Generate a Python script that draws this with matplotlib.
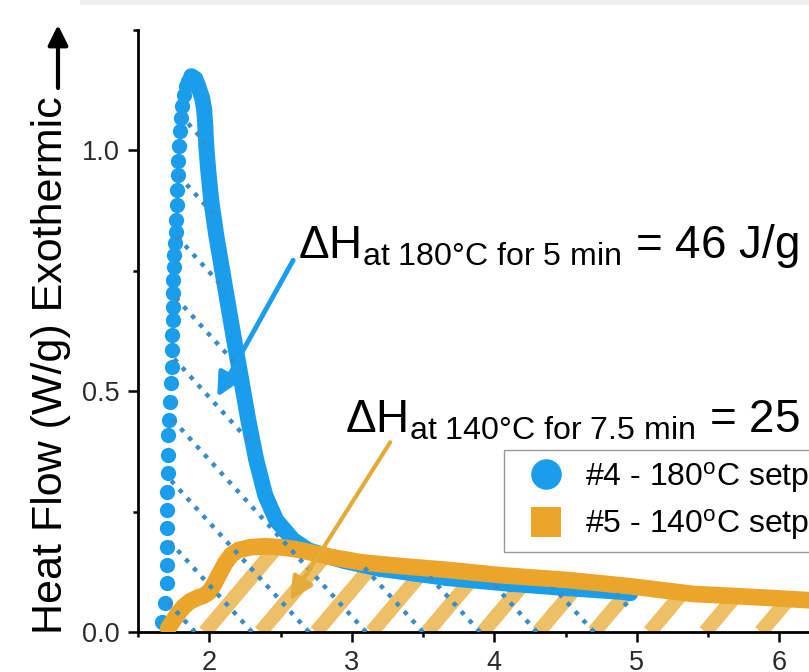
import numpy as np
import matplotlib
matplotlib.use('Agg')
import matplotlib.pyplot as plt
from matplotlib.patches import Polygon, FancyArrowPatch, Rectangle
from matplotlib.collections import LineCollection
from matplotlib.lines import Line2D
from matplotlib.ticker import MultipleLocator

plt.rcParams['font.family'] = ['Liberation Sans', 'DejaVu Sans']
plt.rcParams['mathtext.fontset'] = 'custom'
plt.rcParams['mathtext.rm'] = 'Liberation Sans'
plt.rcParams['mathtext.it'] = 'Liberation Sans:italic'
plt.rcParams['mathtext.bf'] = 'Liberation Sans:bold'


#------
# DATA
#------

# run #4, 180 C setpoint (time in min, heat flow in W/g)
time_180 = [1.670, 1.691, 1.705, 1.705, 1.705, 1.705, 1.705, 1.705, 1.712, 1.712,
            1.712, 1.719, 1.726, 1.733, 1.740, 1.740, 1.740, 1.747, 1.747, 1.747,
            1.747, 1.754, 1.754, 1.761, 1.768, 1.768, 1.775, 1.775, 1.782, 1.782,
            1.789, 1.796, 1.804, 1.811, 1.825, 1.839, 1.853, 1.874,
            1.902, 1.923, 1.951, 1.965, 1.972, 1.979, 1.993, 2.014, 2.049, 2.091,
            2.133, 2.175, 2.225, 2.274, 2.330, 2.393, 2.470, 2.589, 2.695, 2.821,
            2.954, 3.200, 3.670, 4.112, 4.512, 4.905, 4.954]
heat_180 = [0.021, 0.060, 0.102, 0.139, 0.176, 0.216, 0.253, 0.290, 0.330, 0.367,
            0.409, 0.440, 0.477, 0.517, 0.550, 0.585, 0.616, 0.647, 0.674, 0.703,
            0.730, 0.757, 0.782, 0.807, 0.830, 0.855, 0.886, 0.917, 0.948, 0.979,
            1.010, 1.041, 1.068, 1.093, 1.114, 1.133, 1.145, 1.154,
            1.149, 1.133, 1.108, 1.083, 1.052, 1.010, 0.958, 0.896, 0.824, 0.751,
            0.678, 0.606, 0.523, 0.440, 0.357, 0.284, 0.232, 0.191, 0.170, 0.158,
            0.147, 0.131, 0.112, 0.100, 0.091, 0.083, 0.081]

# run #5, 140 C setpoint
time_140 = [1.712, 1.768, 1.818, 1.867, 1.916, 1.958, 2.000, 2.035, 2.070, 2.112,
            2.154, 2.204, 2.288, 2.393, 2.498, 2.604, 2.730, 2.849, 3.060, 3.340,
            3.670, 4.042, 4.512, 4.954, 5.396, 5.796, 6.211, 6.358]
heat_140 = [0.008, 0.033, 0.052, 0.064, 0.071, 0.075, 0.083, 0.100, 0.120, 0.143,
            0.160, 0.170, 0.176, 0.178, 0.176, 0.172, 0.164, 0.156, 0.145, 0.137,
            0.129, 0.118, 0.108, 0.095, 0.079, 0.073, 0.066, 0.062]

series_labels = ['#4 - 180$^{\\mathrm{o}}$C setpoint',
                 '#5 - 140$^{\\mathrm{o}}$C setpoint']
dh_labels = ['$\\mathrm{\\Delta H}_{\\mathrm{at\\ 180°C\\ for\\ 5\\ min}}$ = 46 J/g',
             '$\\mathrm{\\Delta H}_{\\mathrm{at\\ 140°C\\ for\\ 7.5\\ min}}$ = 25 J/g']

BLUE = '#1A9EEC'
ORANGE = '#EBA52A'
ORANGE_LIGHT = '#ECB956'
DOTS = '#3A8CC6'


#---------
# HELPERS
#---------

# parallel lines through the baseline at x0s, clipped to the area under (x, y)
def hatch(ax, x, y, x0s, slope, **kw):
    verts = np.vstack([np.column_stack([x, y]), [[x[-1], 0], [x[0], 0]]])
    clip = Polygon(verts, closed=True, transform=ax.transData)
    top = max(y) * 1.05
    segs = [[(x0, 0), (x0 + top / slope, top)] for x0 in x0s]
    lc = LineCollection(segs, **kw)
    ax.add_collection(lc, autolim=False)
    lc.set_clip_path(clip)


#------
# MAIN
#------

fig = plt.figure(figsize=(8.09, 6.72), dpi=100)
fig.add_artist(Rectangle((80 / 809, 1 - 5 / 672), 1, 5 / 672,
                         transform=fig.transFigure, color='#efefef', lw=0))

ax = fig.add_axes([138 / 809, 40 / 672, 855 / 809, 602 / 672])

# area hatching
hatch(ax, time_140, heat_140, np.arange(1.58, 6.6, 0.39), 0.35,
      colors=ORANGE_LIGHT, linewidths=10.5, alpha=0.9, zorder=2)
peak = int(np.argmax(heat_180))
ax.plot(time_180, heat_180, 'o', ms=11, mew=0, color=BLUE, zorder=3)
ax.plot(time_180[peak:], heat_180[peak:], '-', lw=11.5, color=BLUE,
        solid_capstyle='round', zorder=3)
ax.plot(time_140, heat_140, '-', lw=12, color=ORANGE,
        solid_capstyle='round', solid_joinstyle='round', zorder=4)
hatch(ax, time_180, heat_180, np.arange(1.9, 5.6, 0.4), -0.325,
      colors=DOTS, linewidths=3.2, linestyles=':', zorder=5)

# enthalpy annotations
ax.text(2.625, 0.776, dh_labels[0], fontsize=33, ha='left', va='baseline', zorder=7)
ax.text(2.954, 0.415, dh_labels[1], fontsize=33, ha='left', va='baseline', zorder=7)
ax.add_patch(FancyArrowPatch((2.589, 0.772), (2.056, 0.488),
                             arrowstyle='-|>,head_length=0.7,head_width=0.35',
                             mutation_scale=20, lw=3.5, color=BLUE,
                             shrinkA=0, shrinkB=0, zorder=6))
ax.add_patch(FancyArrowPatch((3.27, 0.394), (2.568, 0.066),
                             arrowstyle='-|>,head_length=0.7,head_width=0.35',
                             mutation_scale=20, lw=3, color='#E3AC3A',
                             shrinkA=0, shrinkB=0, zorder=6))

# axes
ax.set_xlim(1.5, 7.5)
ax.set_ylim(0, 1.25)
ax.xaxis.set_major_locator(MultipleLocator(1))
ax.xaxis.set_minor_locator(MultipleLocator(0.5))
ax.yaxis.set_major_locator(MultipleLocator(0.5))
ax.yaxis.set_minor_locator(MultipleLocator(0.25))
ax.yaxis.set_major_formatter(plt.FormatStrFormatter('%.1f'))
ax.tick_params(which='major', direction='out', length=7, width=1.8,
               labelsize=19.5, labelcolor='#2b2b2b', pad=6)
ax.tick_params(which='minor', direction='out', length=3.5, width=1.8)
for side in ['top', 'right']:
    ax.spines[side].set_visible(False)
for side in ['left', 'bottom']:
    ax.spines[side].set_linewidth(2)

fig.text(51 / 809, 1 - 365 / 672, 'Heat Flow (W/g) Exothermic',
         rotation=90, ha='center', va='center', fontsize=31)
ax.annotate('', xy=(58 / 809, 1 - 25 / 672), xytext=(58 / 809, 1 - 88 / 672),
            xycoords='figure fraction', textcoords='figure fraction',
            arrowprops=dict(arrowstyle='-|>,head_length=0.6,head_width=0.3',
                            mutation_scale=20, lw=3, color='black',
                            shrinkA=0, shrinkB=0))

handles = [Line2D([], [], ls='none', marker='o', ms=22, mew=0, color=BLUE),
           Line2D([], [], ls='none', marker='s', ms=21, mew=0, color=ORANGE)]
leg = ax.legend(handles, series_labels, loc='upper left',
                bbox_to_anchor=(504 / 809, 1 - 450 / 672), bbox_transform=fig.transFigure,
                borderaxespad=0, borderpad=0.3, handlelength=2.0, handletextpad=0.23,
                labelspacing=0.4, fontsize=23, fancybox=False, framealpha=1)
leg.get_frame().set_edgecolor('#999999')
leg.get_frame().set_linewidth(1)
leg.set_zorder(8)

fig.savefig('out.png', dpi=100)
